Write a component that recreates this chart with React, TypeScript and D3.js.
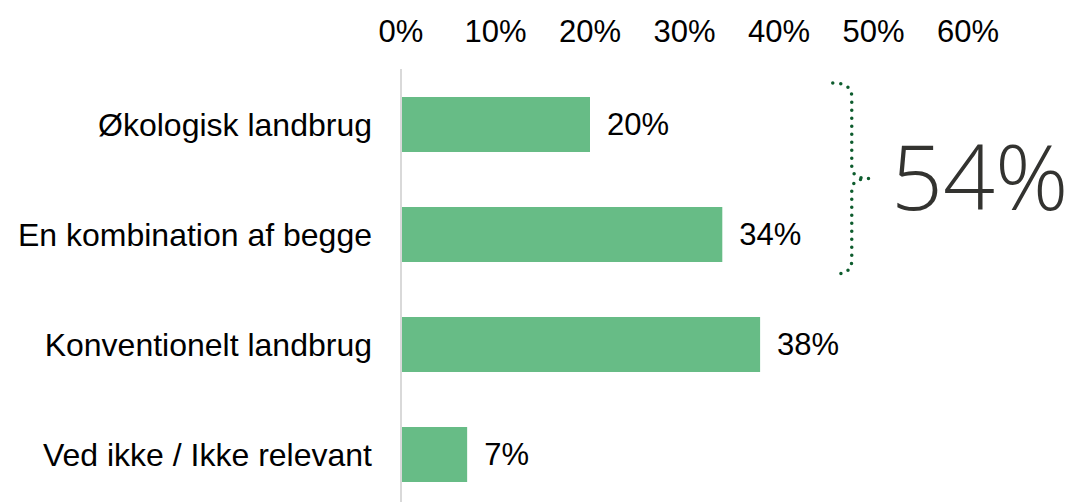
import React from 'react';
import * as d3 from 'd3';

const categories = ['Økologisk landbrug', 'En kombination af begge', 'Konventionelt landbrug', 'Ved ikke / Ikke relevant'];
const values = [0.2, 0.34, 0.38, 0.07];
const tickValues = [0, 0.1, 0.2, 0.3, 0.4, 0.5, 0.6];
const groupedLabel = '54%';
const groupedCategories = ['Økologisk landbrug', 'En kombination af begge'];

const W = 1074;
const H = 502;
const BAR_COLOR = '#67bc86';
const BRACE_COLOR = '#0d5c2d';
const FONT = 'Arial, "Liberation Sans", sans-serif';

const App = () => {
    const x = d3.scaleLinear().domain([0, 0.6]).range([401, 968]);
    const y = d3
        .scaleBand<string>()
        .domain(categories)
        .range([69.5, 509.5])
        .paddingInner(0.5)
        .paddingOuter(0.25);
    const pct = d3.format('.0%');

    // brace around the first two bars
    const top = y(groupedCategories[0])! - 14;
    const bottom = y(groupedCategories[1])! + y.bandwidth() + 12;
    const mid = (top + bottom) / 2;
    const bx = x(0.477);
    const brace = d3.path();
    brace.moveTo(bx - 19, top);
    brace.quadraticCurveTo(bx, top, bx, top + 14);
    brace.lineTo(bx, mid - 12);
    brace.quadraticCurveTo(bx, mid, bx + 17, mid);
    brace.quadraticCurveTo(bx, mid, bx, mid + 12);
    brace.lineTo(bx, bottom - 14);
    brace.quadraticCurveTo(bx, bottom, bx - 16, bottom);

    return (
        <svg width={W} height={H} style={{ position: 'absolute', left: 0, top: 0, background: '#fff' }}>
            <g fontFamily={FONT} fontSize={31} fill="#000">
                {tickValues.map(t => (
                    <text key={t} x={x(t)} y={42} textAnchor="middle">
                        {pct(t)}
                    </text>
                ))}
            </g>

            <line x1={x(0)} x2={x(0)} y1={69} y2={H} stroke="#d9d9d9" strokeWidth={2} />

            {categories.map((c, i) => (
                <g key={c}>
                    <rect
                        x={x(0) + 1}
                        y={y(c)}
                        width={x(values[i]) - x(0) - 1}
                        height={y.bandwidth()}
                        fill={BAR_COLOR}
                    />
                    <text
                        x={x(0) - 29}
                        y={y(c)! + y.bandwidth() / 2}
                        dy="0.35em"
                        textAnchor="end"
                        fontFamily={FONT}
                        fontSize={32}
                    >
                        {c}
                    </text>
                    <text
                        x={x(values[i]) + 17}
                        y={y(c)! + y.bandwidth() / 2}
                        dy="0.35em"
                        fontFamily={FONT}
                        fontSize={31}
                    >
                        {pct(values[i])}
                    </text>
                </g>
            ))}

            <path
                d={brace.toString()}
                fill="none"
                stroke={BRACE_COLOR}
                strokeWidth={3.5}
                strokeLinecap="round"
                strokeDasharray="0 8"
            />
            <text
                x={891}
                y={210}
                fontFamily='"Open Sans", sans-serif'
                fontWeight={300}
                fontSize={91}
                fill="#333330"
            >
                {groupedLabel}
            </text>
        </svg>
    );
};

export default App;
